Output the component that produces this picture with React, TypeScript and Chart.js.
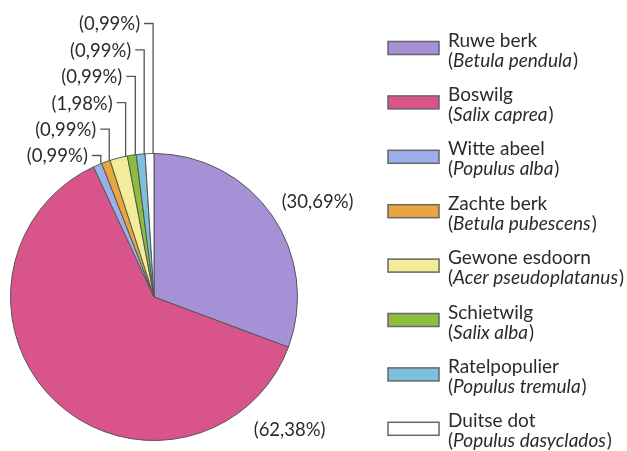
import React, { useEffect, useRef } from "react";
import { Chart, registerables } from "chart.js";

Chart.register(...registerables);

const species = [
  "Ruwe berk",
  "Boswilg",
  "Witte abeel",
  "Zachte berk",
  "Gewone esdoorn",
  "Schietwilg",
  "Ratelpopulier",
  "Duitse dot",
];
const latinNames = [
  "Betula pendula",
  "Salix caprea",
  "Populus alba",
  "Betula pubescens",
  "Acer pseudoplatanus",
  "Salix alba",
  "Populus tremula",
  "Populus dasyclados",
];
const percentages = [30.69, 62.38, 0.99, 0.99, 1.98, 0.99, 0.99, 0.99];
const sliceColors = [
  "#a690d6",
  "#d9548a",
  "#9bb0e8",
  "#e9a63e",
  "#f3ec98",
  "#8dbd40",
  "#7cc0da",
  "#ffffff",
];

const fmt = (v: number) => "(" + v.toFixed(2).replace(".", ",") + "%)";

const TEXT = "#2b2b2b";
const FONT = "Lato, 'DejaVu Sans', sans-serif";

const overlayPlugin = {
  id: "overlay",
  afterDraw(chart: any) {
    const ctx = chart.ctx as CanvasRenderingContext2D;
    const meta = chart.getDatasetMeta(0);
    const arcs = meta.data as any[];
    if (!arcs.length) return;
    const cx = arcs[0].x;
    const cy = arcs[0].y;
    const r = arcs[0].outerRadius;

    ctx.save();
    ctx.fillStyle = TEXT;
    ctx.font = `18.5px ${FONT}`;
    ctx.textBaseline = "middle";

    // large slice labels (outside the pie)
    const bigOffsets = [
      [1.14, -0.66],
      [0.945, 0.925],
    ];
    for (let i = 0; i < 2; i++) {
      ctx.textAlign = "center";
      ctx.fillText(fmt(percentages[i]), cx + bigOffsets[i][0] * r, cy + bigOffsets[i][1] * r);
    }

    // small slices: leader lines going up then left
    ctx.strokeStyle = "#555555";
    ctx.lineWidth = 1.3;
    for (let i = 2; i < arcs.length; i++) {
      const j = i - 2;
      const a = arcs[i];
      const ang = a.startAngle + 0.9 * (a.endAngle - a.startAngle);
      const px = cx + r * Math.cos(ang);
      const py = cy + r * Math.sin(ang);
      const ly = cy - r + 2 - j * 26.4;
      ctx.beginPath();
      ctx.moveTo(px, py);
      ctx.lineTo(px, ly);
      ctx.lineTo(px - 9, ly);
      ctx.stroke();
      ctx.textAlign = "right";
      ctx.fillText(fmt(percentages[i]), px - 13, ly + 1);
    }

    // legend
    ctx.textAlign = "left";
    ctx.textBaseline = "alphabetic";
    for (let i = 0; i < species.length; i++) {
      const top = 41.5 + i * 54.4;
      ctx.fillStyle = sliceColors[i];
      ctx.fillRect(388, top, 51, 13);
      ctx.strokeStyle = "#666666";
      ctx.lineWidth = 1.5;
      ctx.strokeRect(388, top, 51, 13);

      ctx.fillStyle = TEXT;
      ctx.font = `19px ${FONT}`;
      ctx.fillText(species[i], 448, top + 5);
      let x = 448;
      ctx.fillText("(", x, top + 25);
      x += ctx.measureText("(").width;
      ctx.font = `italic 19px ${FONT}`;
      ctx.fillText(latinNames[i], x, top + 25);
      x += ctx.measureText(latinNames[i]).width + 1;
      ctx.font = `19px ${FONT}`;
      ctx.fillText(")", x, top + 25);
    }
    ctx.restore();
  },
};

export default function App() {
  const ref = useRef<HTMLCanvasElement>(null);
  useEffect(() => {
    if (!ref.current) return;
    const chart = new Chart(ref.current, {
      type: "pie",
      data: {
        labels: species,
        datasets: [
          {
            data: percentages,
            backgroundColor: sliceColors,
            borderColor: "#555555",
            borderWidth: 1,
          },
        ],
      },
      options: {
        responsive: false,
        animation: false,
        devicePixelRatio: 1,
        layout: { padding: { left: 10, top: 153, right: 329, bottom: 10 } },
        plugins: {
          legend: { display: false },
          tooltip: { enabled: false },
        },
      },
      plugins: [overlayPlugin],
    });
    return () => chart.destroy();
  }, []);
  return (
    <div style={{ position: "absolute", left: 0, top: 0, width: 627, height: 451, background: "#fff" }}>
      <canvas ref={ref} width={627} height={451} style={{ width: 627, height: 451 }} />
    </div>
  );
}
